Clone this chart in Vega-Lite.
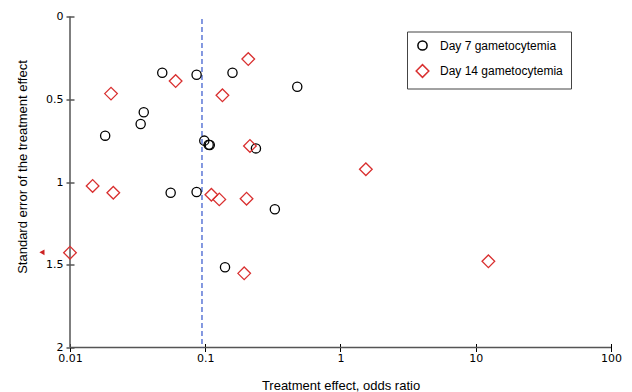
{
  "$schema": "https://vega.github.io/schema/vega-lite/v6.json",
  "width": 541,
  "height": 331,
  "autosize": "none",
  "padding": {"left": 70, "top": 16.5, "right": 21, "bottom": 44.5},
  "background": "white",
  "config": {"view": {"stroke": null}, "font": "Liberation Sans"},
  "datasets": {
    "pts": [
      {"series": "Day 7 gametocytemia", "or": 0.0481, "se": 0.34},
      {"series": "Day 7 gametocytemia", "or": 0.0863, "se": 0.352},
      {"series": "Day 7 gametocytemia", "or": 0.159, "se": 0.34},
      {"series": "Day 7 gametocytemia", "or": 0.479, "se": 0.424},
      {"series": "Day 7 gametocytemia", "or": 0.0351, "se": 0.579},
      {"series": "Day 7 gametocytemia", "or": 0.0333, "se": 0.65},
      {"series": "Day 7 gametocytemia", "or": 0.0182, "se": 0.72},
      {"series": "Day 7 gametocytemia", "or": 0.0984, "se": 0.75},
      {"series": "Day 7 gametocytemia", "or": 0.106, "se": 0.775},
      {"series": "Day 7 gametocytemia", "or": 0.108, "se": 0.776},
      {"series": "Day 7 gametocytemia", "or": 0.237, "se": 0.797},
      {"series": "Day 7 gametocytemia", "or": 0.0555, "se": 1.065},
      {"series": "Day 7 gametocytemia", "or": 0.0863, "se": 1.06},
      {"series": "Day 7 gametocytemia", "or": 0.327, "se": 1.165},
      {"series": "Day 7 gametocytemia", "or": 0.14, "se": 1.515},
      {"series": "Day 14 gametocytemia", "or": 0.208, "se": 0.257},
      {"series": "Day 14 gametocytemia", "or": 0.0604, "se": 0.39},
      {"series": "Day 14 gametocytemia", "or": 0.0201, "se": 0.466},
      {"series": "Day 14 gametocytemia", "or": 0.134, "se": 0.476},
      {"series": "Day 14 gametocytemia", "or": 0.214, "se": 0.782},
      {"series": "Day 14 gametocytemia", "or": 0.0147, "se": 1.024},
      {"series": "Day 14 gametocytemia", "or": 0.0209, "se": 1.065},
      {"series": "Day 14 gametocytemia", "or": 0.111, "se": 1.077},
      {"series": "Day 14 gametocytemia", "or": 0.127, "se": 1.105},
      {"series": "Day 14 gametocytemia", "or": 0.202, "se": 1.101},
      {"series": "Day 14 gametocytemia", "or": 0.01, "se": 1.427},
      {"series": "Day 14 gametocytemia", "or": 0.194, "se": 1.552},
      {"series": "Day 14 gametocytemia", "or": 1.54, "se": 0.923},
      {"series": "Day 14 gametocytemia", "or": 12.4, "se": 1.479}
    ],
    "offscale": [{"or": 0.0062, "se": 1.425}]
  },
  "layer": [
    {
      "data": {"values": [{}]},
      "mark": {"type": "rule", "color": "#555555", "strokeWidth": 1.5},
      "encoding": {"x": {"datum": 0.01, "type": "quantitative"}}
    },
    {
      "data": {"values": [{}]},
      "mark": {"type": "rule", "color": "#555555", "strokeWidth": 1.5},
      "encoding": {"y": {"datum": 2, "type": "quantitative"}}
    },
    {
      "data": {"values": [{}]},
      "mark": {"type": "rule", "color": "#3355cc", "strokeWidth": 1.2, "strokeDash": [5, 3]},
      "encoding": {
        "x": {"datum": 0.0946, "type": "quantitative"},
        "y": {"datum": 0.015, "type": "quantitative"},
        "y2": {"datum": 2}
      }
    },
    {
      "data": {"name": "pts"},
      "mark": {"type": "point", "filled": false, "strokeWidth": 1.3, "opacity": 1},
      "encoding": {
        "x": {
          "field": "or", "type": "quantitative",
          "scale": {"type": "log", "domain": [0.01, 100], "nice": false},
          "axis": {
            "title": "Treatment effect, odds ratio",
            "values": [0.01, 0.1, 1, 10, 100],
            "format": "~g",
            "offset": -4, "tickSize": 8, "domain": false, "grid": false,
            "labelPadding": 1, "labelFlush": false, "labelOverlap": false,
            "labelFont": "DejaVu Sans", "labelFontSize": 11, "labelColor": "#000000",
            "tickColor": "#000000", "tickWidth": 1,
            "titleFont": "Liberation Sans", "titleFontSize": 13, "titleFontWeight": "normal",
            "titleColor": "#000000", "titleY": 42, "titleBaseline": "middle"
          }
        },
        "y": {
          "field": "se", "type": "quantitative",
          "scale": {"domain": [0, 2], "reverse": true, "nice": false},
          "axis": {
            "title": "Standard error of the treatment effect",
            "values": [0, 0.5, 1, 1.5, 2],
            "format": "~g",
            "offset": -4, "tickSize": 8, "domain": false, "grid": false,
            "labelPadding": 3, "labelFlush": false, "labelOverlap": false,
            "labelFont": "DejaVu Sans", "labelFontSize": 11, "labelColor": "#000000",
            "tickColor": "#000000", "tickWidth": 1,
            "titleFont": "Liberation Sans", "titleFontSize": 13, "titleFontWeight": "normal",
            "titleColor": "#000000", "titleX": -52, "titleY": 150,
            "titleBaseline": "middle", "titleAlign": "center", "titleAngle": -90
          }
        },
        "color": {
          "field": "series", "type": "nominal",
          "scale": {"domain": ["Day 7 gametocytemia", "Day 14 gametocytemia"], "range": ["#000000", "#d93030"]},
          "legend": {
            "title": null, "orient": "none", "legendX": 337, "legendY": 15,
            "strokeColor": "#444444", "fillColor": "#ffffff", "padding": 8, "rowPadding": 8,
            "labelFont": "Liberation Sans", "labelFontSize": 12, "labelColor": "#000000",
            "labelOffset": 10, "symbolStrokeWidth": 1.5, "symbolFillColor": "transparent"
          }
        },
        "shape": {
          "field": "series", "type": "nominal",
          "scale": {"domain": ["Day 7 gametocytemia", "Day 14 gametocytemia"], "range": ["circle", "diamond"]}
        },
        "size": {
          "field": "series", "type": "nominal",
          "scale": {"domain": ["Day 7 gametocytemia", "Day 14 gametocytemia"], "range": [85, 160]}
        }
      }
    },
    {
      "data": {"name": "offscale"},
      "mark": {"type": "point", "shape": "triangle-left", "filled": true, "color": "#cc2222", "size": 35, "opacity": 1},
      "encoding": {
        "x": {"field": "or", "type": "quantitative"},
        "y": {"field": "se", "type": "quantitative"}
      }
    }
  ]
}
